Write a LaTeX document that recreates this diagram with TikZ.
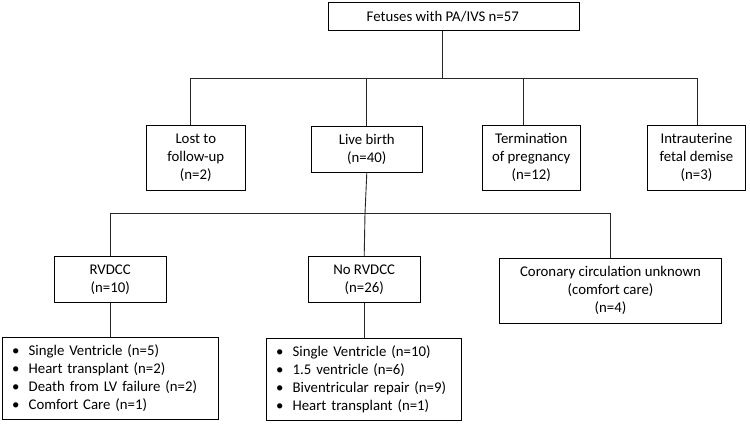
\documentclass[tikz,border=0pt]{standalone}
\usepackage{fontspec}
\setmainfont{Carlito}
\begin{document}
\begin{tikzpicture}[x=1pt,y=-1pt,
  box/.style={draw=black, line width=0.9pt, align=center, inner sep=0pt,
    font=\fontsize{14.8}{18}\selectfont},
  listbox/.style={box, align=left, inner xsep=7pt},
  link/.style={draw=black!85, line width=0.9pt}]
\useasboundingbox (0,0) rectangle (750,424);
\newcommand{\bul}{\makebox[19pt][l]{\hspace{2.5pt}\textbullet}}
% level 0
\node[box, minimum width=251, minimum height=28] (top) at (453.8,16.7) {Fetuses with PA/IVS n=57\hspace*{22pt}};
% level 1
\node[box, minimum width=98.3, minimum height=64.3] (lost) at (195.8,157.8) {Lost to\\follow-up\\(n=2)};
\node[box, minimum width=111.7, minimum height=46.3] (live) at (366.8,149.2) {Live birth\\(n=40)};
\node[box, minimum width=97.7, minimum height=65.7] (term) at (531.2,157.8) {Termination\\of pregnancy\\(n=12)};
\node[box, minimum width=98.4, minimum height=65.7] (iufd) at (696.5,157.8) {Intrauterine\\fetal demise\\(n=3)};
% level 2
\node[box, minimum width=111.7, minimum height=45.6] (rv) at (110.2,279.5) {RVDCC\\(n=10)};
\node[box, minimum width=111.7, minimum height=45.6] (norv) at (364.2,279.5) {No RVDCC\\(n=26)};
\node[box, minimum width=222.4, minimum height=65] (cor) at (610.5,290.8) {Coronary circulation unknown\\(comfort care)\\(n=4)};
% level 3
\node[listbox, text width=201.6, minimum height=81.6] (rvl) at (110.5,378.5)
  {\bul Single Ventricle (n=5)\\\bul Heart transplant (n=2)\\\bul Death from LV failure (n=2)\\\bul Comfort Care (n=1)};
\node[listbox, text width=180.3, minimum height=81.7] (norvl) at (363.8,379.2)
  {\bul Single Ventricle (n=10)\\\bul 1.5 ventricle (n=6)\\\bul Biventricular repair (n=9)\\\bul Heart transplant (n=1)};
% junctions
\coordinate (j0) at (442.7,78);
\coordinate (d1) at (190.7,78);
\coordinate (d2) at (366.7,78);
\coordinate (d3) at (523.3,78);
\coordinate (d4) at (697.3,78);
\coordinate (j1) at (365,213.3);
\coordinate (e1) at (110.2,213.3);
\coordinate (e2) at (610.5,213.3);
% connectors
\draw[link] (top.south -| j0) -- (j0);
\draw[link] (d1) -- (d4);
\draw[link] (d1) -- (d1 |- lost.north);
\draw[link] (d2) -- (d2 |- live.north);
\draw[link] (d3) -- (d3 |- term.north);
\draw[link] (d4) -- (d4 |- iufd.north);
\draw[link] (live.south) -- (j1) -- (norv.north);
\draw[link] (e1) -- (e2);
\draw[link] (e1) -- (rv.north);
\draw[link] (e2) -- (cor.north);
\draw[link] (rv.south) -- (rv.south |- rvl.north);
\draw[link] (norv.south) -- (norv.south |- norvl.north);
\end{tikzpicture}
\end{document}
